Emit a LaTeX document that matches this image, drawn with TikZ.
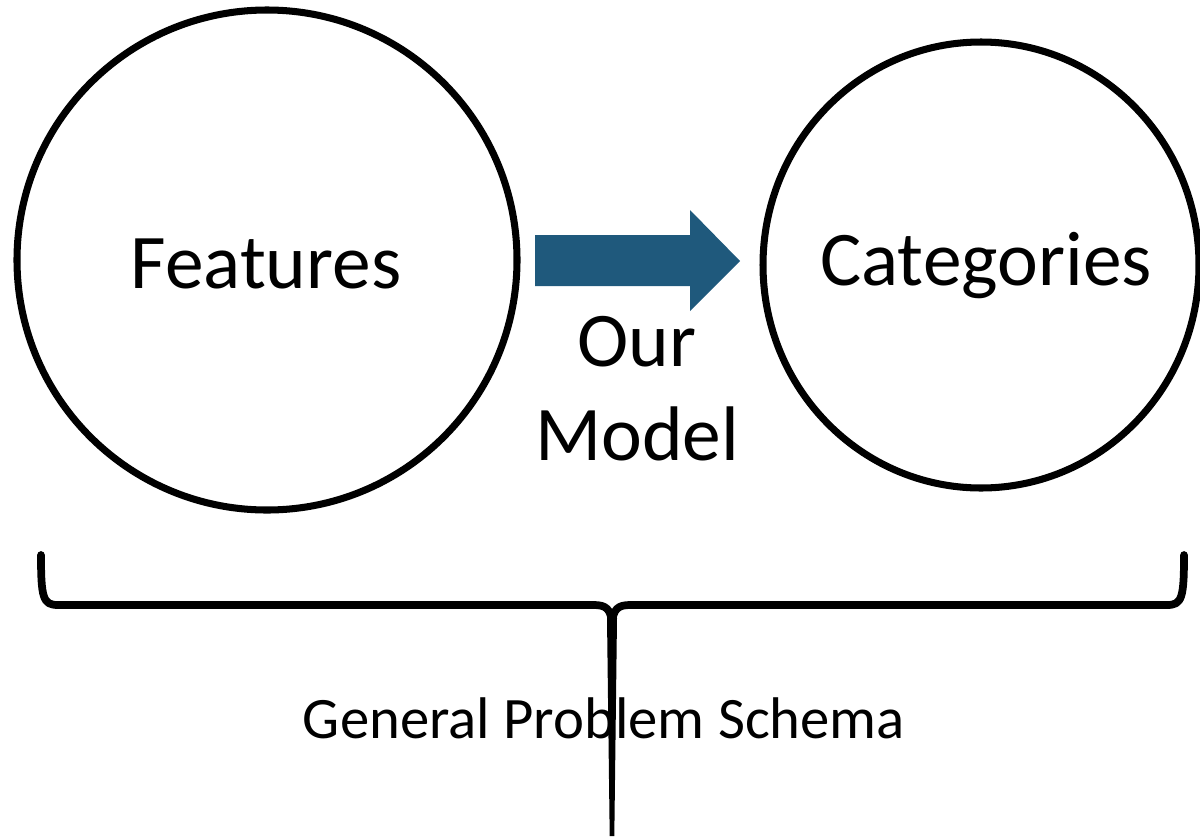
\documentclass[tikz,border=0pt]{standalone}
\usepackage{fontspec}
\setmainfont{Carlito}
\usetikzlibrary{positioning}
\definecolor{modelblue}{RGB}{31,89,124}
\tikzset{
  setcircle/.style={draw=black, line width=2pt},
  bigtext/.style={font=\fontsize{22}{26}\selectfont, anchor=base},
  bracetext/.style={font=\fontsize{16.7}{20}\selectfont, anchor=base}
}
\begin{document}
\begin{tikzpicture}[x=0.01cm, y=-0.01cm]

\useasboundingbox (0,0) rectangle (1200,836);

%% Sets
\draw[setcircle] (267,260) ellipse [x radius=250, y radius=250];
\draw[setcircle] (981,265) ellipse [x radius=218, y radius=223];
\node[bigtext] (features)   at (266,288) {Features};
\node[bigtext] (categories) at (986,285) {Categories};

%% Block arrow (model)
\coordinate (tip) at (740,261);
\fill[modelblue] (535,235) -- (690,235) -- (690,210) -- (tip)
  -- (690,311) -- (690,286) -- (535,286) -- cycle;
\node[bigtext] (our)   at (637,366) {Our};
\node[bigtext] (model) at (637,460) {Model};

%% Brace
\draw[line width=2.2pt, line cap=round]
  (41,555) .. controls (41,598) and (43,605) .. (58,605) -- (594,605)
  .. controls (606,605) and (611,609) .. (612,624);
\draw[line width=2.2pt, line cap=round]
  (1184,555) .. controls (1184,598) and (1182,605) .. (1167,605) -- (630,605)
  .. controls (618,605) and (613,609) .. (612,624);
\fill (607,618) -- (617,618) -- (614.3,836) -- (609.7,836) -- cycle;
\node[bracetext] (schema) at (604,738) {General Problem Schema};

\end{tikzpicture}
\end{document}
